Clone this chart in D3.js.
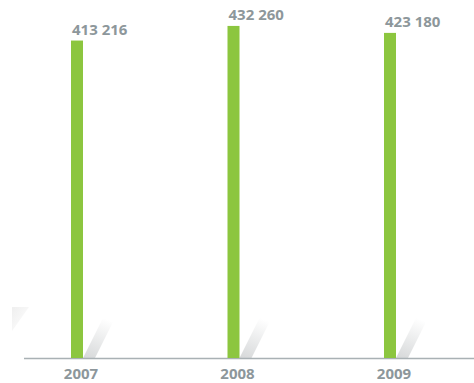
<!DOCTYPE html>
<html>
<head>
<meta charset="utf-8">
<script src="https://cdn.jsdelivr.net/npm/d3@7"></script>
<style>
  body { margin: 0; background: #fff; }
  text { font-family: "Open Sans", sans-serif; font-weight: 700; fill: #8d979b; }
</style>
</head>
<body>
<svg id="chart" width="474" height="383"></svg>
<script>
// chart data
let years = ["2007", "2008", "2009"];
let values = [413216, 432260, 423180];
let valueLabels = ["413 216", "432 260", "423 180"];

let svg = d3.select("#chart");

let xr1 = 77;
let xr2 = 390;
let yr1 = 0;
let yr2 = 358;
let barW = 12;

let xScale = d3.scalePoint()
    .domain(years)
    .range([xr1, xr2]);
let yScale = d3.scaleLinear()
    .domain([0, 466000])
    .range([yr2, yr1]);

// shadow gradient
let defs = svg.append("defs");
let grad = defs.append("linearGradient")
    .attr("id", "shade")
    .attr("x1", 0).attr("y1", 1).attr("x2", 0.3).attr("y2", 0);
grad.append("stop").attr("offset", "0%").attr("stop-color", "#d6d8d9");
grad.append("stop").attr("offset", "100%").attr("stop-color", "#ffffff");

let grad2 = defs.append("linearGradient")
    .attr("id", "shade2")
    .attr("x1", 0).attr("y1", 0).attr("x2", 1).attr("y2", 1);
grad2.append("stop").attr("offset", "0%").attr("stop-color", "#efefef");
grad2.append("stop").attr("offset", "100%").attr("stop-color", "#ffffff");

// faint decoration at the left edge
svg.append("path")
    .attr("d", "M12,307 L29,307 L12,331 Z")
    .attr("fill", "url(#shade2)");

// slanted shadows behind bars
svg.append("g").selectAll("path")
    .data(years)
    .enter().append("path")
    .attr("d", d => {
        let x0 = xScale(d) + barW / 2;
        return "M" + x0 + "," + yr2 + " L" + (x0 + 12) + "," + yr2 +
            " L" + (x0 + 34) + "," + (yr2 - 44) + " L" + (x0 + 22) + "," + (yr2 - 44) + " Z";
    })
    .attr("fill", "url(#shade)");

// axis line
svg.append("line")
    .attr("x1", 24).attr("x2", 474)
    .attr("y1", yr2 + 0.5).attr("y2", yr2 + 0.5)
    .attr("stroke", "#a9b1b4")
    .attr("stroke-width", 1.5);

// bars
svg.append("g").selectAll("rect")
    .data(values)
    .enter().append("rect")
    .attr("x", (d, i) => xScale(years[i]) - barW / 2)
    .attr("y", d => yScale(d))
    .attr("width", barW)
    .attr("height", d => yr2 - yScale(d))
    .attr("fill", "#8cc63f");

// value labels
svg.append("g").selectAll("text")
    .data(values)
    .enter().append("text")
    .attr("x", (d, i) => xScale(years[i]) - barW / 2 + 1)
    .attr("y", d => yScale(d) - 6)
    .attr("font-size", 15)
    .text((d, i) => valueLabels[i]);

// year labels
svg.append("g").selectAll("text")
    .data(years)
    .enter().append("text")
    .attr("x", d => xScale(d) + 4)
    .attr("y", yr2 + 21)
    .attr("text-anchor", "middle")
    .attr("font-size", 15)
    .text(d => d);
</script>
</body>
</html>
